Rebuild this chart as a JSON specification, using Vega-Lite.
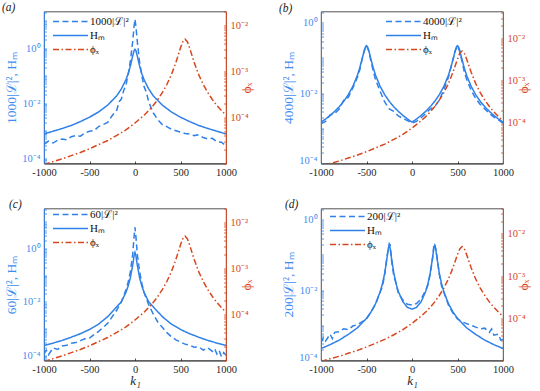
{
"$schema": "https://vega.github.io/schema/vega-lite/v6.json",
"background": "white",
"padding": {"left": 1, "top": 1.5, "right": 0, "bottom": 0},
"datasets": {
"phi": [
{"k":-1000,"v":9.5e-6,"s":"ϕₓ"},{"k":-900,"v":1.1e-5,"s":"ϕₓ"},{"k":-800,"v":1.26e-5,"s":"ϕₓ"},{"k":-700,"v":1.48e-5,"s":"ϕₓ"},{"k":-600,"v":1.74e-5,"s":"ϕₓ"},{"k":-500,"v":2.09e-5,"s":"ϕₓ"},{"k":-400,"v":2.57e-5,"s":"ϕₓ"},{"k":-300,"v":3.16e-5,"s":"ϕₓ"},{"k":-200,"v":4.07e-5,"s":"ϕₓ"},{"k":-100,"v":5.37e-5,"s":"ϕₓ"},{"k":0,"v":7.59e-5,"s":"ϕₓ"},{"k":100,"v":1.12e-4,"s":"ϕₓ"},{"k":150,"v":1.41e-4,"s":"ϕₓ"},{"k":200,"v":1.82e-4,"s":"ϕₓ"},{"k":250,"v":2.45e-4,"s":"ϕₓ"},{"k":300,"v":3.47e-4,"s":"ϕₓ"},{"k":350,"v":5.19e-4,"s":"ϕₓ"},{"k":400,"v":8.51e-4,"s":"ϕₓ"},{"k":425,"v":1.15e-3,"s":"ϕₓ"},{"k":450,"v":1.58e-3,"s":"ϕₓ"},{"k":475,"v":2.26e-3,"s":"ϕₓ"},{"k":500,"v":3.25e-3,"s":"ϕₓ"},{"k":525,"v":4.42e-3,"s":"ϕₓ"},{"k":550,"v":5.01e-3,"s":"ϕₓ"},{"k":575,"v":4.42e-3,"s":"ϕₓ"},{"k":600,"v":3.25e-3,"s":"ϕₓ"},{"k":625,"v":2.26e-3,"s":"ϕₓ"},{"k":650,"v":1.58e-3,"s":"ϕₓ"},{"k":675,"v":1.15e-3,"s":"ϕₓ"},{"k":700,"v":8.51e-4,"s":"ϕₓ"},{"k":750,"v":5.19e-4,"s":"ϕₓ"},{"k":800,"v":3.47e-4,"s":"ϕₓ"},{"k":850,"v":2.45e-4,"s":"ϕₓ"},{"k":900,"v":1.82e-4,"s":"ϕₓ"},{"k":950,"v":1.41e-4,"s":"ϕₓ"},{"k":1000,"v":1.12e-4,"s":"ϕₓ"}
],
"a": [
{"k":-1000,"v":7.59e-4,"s":"Hₘ"},{"k":-900,"v":9.55e-4,"s":"Hₘ"},{"k":-800,"v":1.2e-3,"s":"Hₘ"},{"k":-700,"v":1.55e-3,"s":"Hₘ"},{"k":-600,"v":2.14e-3,"s":"Hₘ"},{"k":-500,"v":3.09e-3,"s":"Hₘ"},{"k":-400,"v":4.79e-3,"s":"Hₘ"},{"k":-300,"v":8.51e-3,"s":"Hₘ"},{"k":-200,"v":0.0186,"s":"Hₘ"},{"k":-150,"v":0.0331,"s":"Hₘ"},{"k":-100,"v":0.0708,"s":"Hₘ"},{"k":-75,"v":0.1175,"s":"Hₘ"},{"k":-50,"v":0.229,"s":"Hₘ"},{"k":-25,"v":0.525,"s":"Hₘ"},{"k":-10,"v":0.813,"s":"Hₘ"},{"k":0,"v":0.912,"s":"Hₘ"},{"k":10,"v":0.813,"s":"Hₘ"},{"k":25,"v":0.525,"s":"Hₘ"},{"k":50,"v":0.229,"s":"Hₘ"},{"k":75,"v":0.1175,"s":"Hₘ"},{"k":100,"v":0.0708,"s":"Hₘ"},{"k":150,"v":0.0331,"s":"Hₘ"},{"k":200,"v":0.0186,"s":"Hₘ"},{"k":300,"v":8.51e-3,"s":"Hₘ"},{"k":400,"v":4.79e-3,"s":"Hₘ"},{"k":500,"v":3.09e-3,"s":"Hₘ"},{"k":600,"v":2.14e-3,"s":"Hₘ"},{"k":700,"v":1.55e-3,"s":"Hₘ"},{"k":800,"v":1.2e-3,"s":"Hₘ"},{"k":900,"v":9.55e-4,"s":"Hₘ"},{"k":1000,"v":7.59e-4,"s":"Hₘ"},
{"k":-1000,"v":3.16e-4,"s":"1000|ℒ|²"},{"k":-950,"v":4.17e-4,"s":"1000|ℒ|²"},{"k":-900,"v":3.55e-4,"s":"1000|ℒ|²"},{"k":-850,"v":4.47e-4,"s":"1000|ℒ|²"},{"k":-800,"v":5.01e-4,"s":"1000|ℒ|²"},{"k":-750,"v":4.68e-4,"s":"1000|ℒ|²"},{"k":-700,"v":6.03e-4,"s":"1000|ℒ|²"},{"k":-650,"v":6.61e-4,"s":"1000|ℒ|²"},{"k":-600,"v":6.31e-4,"s":"1000|ℒ|²"},{"k":-550,"v":8.32e-4,"s":"1000|ℒ|²"},{"k":-500,"v":9.55e-4,"s":"1000|ℒ|²"},{"k":-450,"v":1.0e-3,"s":"1000|ℒ|²"},{"k":-400,"v":1.41e-3,"s":"1000|ℒ|²"},{"k":-350,"v":1.66e-3,"s":"1000|ℒ|²"},{"k":-300,"v":2.0e-3,"s":"1000|ℒ|²"},{"k":-250,"v":3.55e-3,"s":"1000|ℒ|²"},{"k":-200,"v":5.62e-3,"s":"1000|ℒ|²"},{"k":-175,"v":0.0112,"s":"1000|ℒ|²"},{"k":-150,"v":0.0141,"s":"1000|ℒ|²"},{"k":-125,"v":0.0282,"s":"1000|ℒ|²"},{"k":-100,"v":0.0447,"s":"1000|ℒ|²"},{"k":-75,"v":0.112,"s":"1000|ℒ|²"},{"k":-50,"v":0.355,"s":"1000|ℒ|²"},{"k":-25,"v":1.778,"s":"1000|ℒ|²"},{"k":-10,"v":6.31,"s":"1000|ℒ|²"},{"k":0,"v":11.2,"s":"1000|ℒ|²"},{"k":10,"v":6.31,"s":"1000|ℒ|²"},{"k":25,"v":1.778,"s":"1000|ℒ|²"},{"k":50,"v":0.316,"s":"1000|ℒ|²"},{"k":75,"v":0.1,"s":"1000|ℒ|²"},{"k":100,"v":0.0398,"s":"1000|ℒ|²"},{"k":125,"v":0.0251,"s":"1000|ℒ|²"},{"k":150,"v":0.0112,"s":"1000|ℒ|²"},{"k":200,"v":4.47e-3,"s":"1000|ℒ|²"},{"k":250,"v":2.51e-3,"s":"1000|ℒ|²"},{"k":300,"v":1.66e-3,"s":"1000|ℒ|²"},{"k":350,"v":1.41e-3,"s":"1000|ℒ|²"},{"k":400,"v":1.12e-3,"s":"1000|ℒ|²"},{"k":450,"v":1.0e-3,"s":"1000|ℒ|²"},{"k":500,"v":8.91e-4,"s":"1000|ℒ|²"},{"k":550,"v":7.94e-4,"s":"1000|ℒ|²"},{"k":600,"v":7.59e-4,"s":"1000|ℒ|²"},{"k":650,"v":6.61e-4,"s":"1000|ℒ|²"},{"k":700,"v":7.08e-4,"s":"1000|ℒ|²"},{"k":750,"v":5.62e-4,"s":"1000|ℒ|²"},{"k":800,"v":5.01e-4,"s":"1000|ℒ|²"},{"k":850,"v":5.25e-4,"s":"1000|ℒ|²"},{"k":900,"v":3.98e-4,"s":"1000|ℒ|²"},{"k":950,"v":3.8e-4,"s":"1000|ℒ|²"},{"k":1000,"v":2.82e-4,"s":"1000|ℒ|²"}
],
"b": [
{"k":-1000,"v":1.5e-3,"s":"Hₘ"},{"k":-950,"v":1.84e-3,"s":"Hₘ"},{"k":-900,"v":2.33e-3,"s":"Hₘ"},{"k":-850,"v":3.03e-3,"s":"Hₘ"},{"k":-800,"v":4.1e-3,"s":"Hₘ"},{"k":-750,"v":5.86e-3,"s":"Hₘ"},{"k":-700,"v":9.04e-3,"s":"Hₘ"},{"k":-650,"v":0.01556,"s":"Hₘ"},{"k":-600,"v":0.0322,"s":"Hₘ"},{"k":-575,"v":0.0515,"s":"Hₘ"},{"k":-550,"v":0.0899,"s":"Hₘ"},{"k":-525,"v":0.163,"s":"Hₘ"},{"k":-510,"v":0.211,"s":"Hₘ"},{"k":-500,"v":0.224,"s":"Hₘ"},{"k":-490,"v":0.211,"s":"Hₘ"},{"k":-475,"v":0.163,"s":"Hₘ"},{"k":-450,"v":0.0899,"s":"Hₘ"},{"k":-425,"v":0.0515,"s":"Hₘ"},{"k":-400,"v":0.0322,"s":"Hₘ"},{"k":-350,"v":0.01556,"s":"Hₘ"},{"k":-300,"v":9.04e-3,"s":"Hₘ"},{"k":-250,"v":5.86e-3,"s":"Hₘ"},{"k":-200,"v":4.1e-3,"s":"Hₘ"},{"k":-150,"v":3.03e-3,"s":"Hₘ"},{"k":-100,"v":2.33e-3,"s":"Hₘ"},{"k":-50,"v":1.84e-3,"s":"Hₘ"},{"k":0,"v":1.5e-3,"s":"Hₘ"},{"k":50,"v":1.84e-3,"s":"Hₘ"},{"k":100,"v":2.33e-3,"s":"Hₘ"},{"k":150,"v":3.03e-3,"s":"Hₘ"},{"k":200,"v":4.1e-3,"s":"Hₘ"},{"k":250,"v":5.86e-3,"s":"Hₘ"},{"k":300,"v":9.04e-3,"s":"Hₘ"},{"k":350,"v":0.01556,"s":"Hₘ"},{"k":400,"v":0.0322,"s":"Hₘ"},{"k":425,"v":0.0515,"s":"Hₘ"},{"k":450,"v":0.0899,"s":"Hₘ"},{"k":475,"v":0.163,"s":"Hₘ"},{"k":490,"v":0.211,"s":"Hₘ"},{"k":500,"v":0.224,"s":"Hₘ"},{"k":510,"v":0.211,"s":"Hₘ"},{"k":525,"v":0.163,"s":"Hₘ"},{"k":550,"v":0.0899,"s":"Hₘ"},{"k":575,"v":0.0515,"s":"Hₘ"},{"k":600,"v":0.0322,"s":"Hₘ"},{"k":650,"v":0.01556,"s":"Hₘ"},{"k":700,"v":9.04e-3,"s":"Hₘ"},{"k":750,"v":5.86e-3,"s":"Hₘ"},{"k":800,"v":4.1e-3,"s":"Hₘ"},{"k":850,"v":3.03e-3,"s":"Hₘ"},{"k":900,"v":2.33e-3,"s":"Hₘ"},{"k":950,"v":1.84e-3,"s":"Hₘ"},{"k":1000,"v":1.5e-3,"s":"Hₘ"},
{"k":-1000,"v":1.35e-3,"s":"4000|ℒ|²"},{"k":-950,"v":1.58e-3,"s":"4000|ℒ|²"},{"k":-900,"v":2.4e-3,"s":"4000|ℒ|²"},{"k":-850,"v":2.63e-3,"s":"4000|ℒ|²"},{"k":-800,"v":3.55e-3,"s":"4000|ℒ|²"},{"k":-750,"v":6.31e-3,"s":"4000|ℒ|²"},{"k":-700,"v":7.59e-3,"s":"4000|ℒ|²"},{"k":-650,"v":0.0141,"s":"4000|ℒ|²"},{"k":-600,"v":0.0282,"s":"4000|ℒ|²"},{"k":-575,"v":0.0447,"s":"4000|ℒ|²"},{"k":-550,"v":0.0891,"s":"4000|ℒ|²"},{"k":-525,"v":0.158,"s":"4000|ℒ|²"},{"k":-500,"v":0.224,"s":"4000|ℒ|²"},{"k":-475,"v":0.158,"s":"4000|ℒ|²"},{"k":-450,"v":0.0794,"s":"4000|ℒ|²"},{"k":-425,"v":0.0417,"s":"4000|ℒ|²"},{"k":-400,"v":0.024,"s":"4000|ℒ|²"},{"k":-350,"v":0.0112,"s":"4000|ℒ|²"},{"k":-300,"v":5.62e-3,"s":"4000|ℒ|²"},{"k":-250,"v":3.55e-3,"s":"4000|ℒ|²"},{"k":-200,"v":3.02e-3,"s":"4000|ℒ|²"},{"k":-150,"v":2.24e-3,"s":"4000|ℒ|²"},{"k":-100,"v":1.91e-3,"s":"4000|ℒ|²"},{"k":-50,"v":1.66e-3,"s":"4000|ℒ|²"},{"k":0,"v":1.41e-3,"s":"4000|ℒ|²"},{"k":50,"v":1.58e-3,"s":"4000|ℒ|²"},{"k":100,"v":2.0e-3,"s":"4000|ℒ|²"},{"k":150,"v":2.63e-3,"s":"4000|ℒ|²"},{"k":200,"v":3.55e-3,"s":"4000|ℒ|²"},{"k":250,"v":4.17e-3,"s":"4000|ℒ|²"},{"k":300,"v":6.31e-3,"s":"4000|ℒ|²"},{"k":350,"v":0.0126,"s":"4000|ℒ|²"},{"k":400,"v":0.0282,"s":"4000|ℒ|²"},{"k":425,"v":0.0501,"s":"4000|ℒ|²"},{"k":450,"v":0.0891,"s":"4000|ℒ|²"},{"k":475,"v":0.158,"s":"4000|ℒ|²"},{"k":500,"v":0.224,"s":"4000|ℒ|²"},{"k":525,"v":0.151,"s":"4000|ℒ|²"},{"k":550,"v":0.0794,"s":"4000|ℒ|²"},{"k":575,"v":0.0398,"s":"4000|ℒ|²"},{"k":600,"v":0.0251,"s":"4000|ℒ|²"},{"k":650,"v":0.012,"s":"4000|ℒ|²"},{"k":700,"v":7.08e-3,"s":"4000|ℒ|²"},{"k":750,"v":4.79e-3,"s":"4000|ℒ|²"},{"k":800,"v":3.55e-3,"s":"4000|ℒ|²"},{"k":850,"v":2.63e-3,"s":"4000|ℒ|²"},{"k":900,"v":2.09e-3,"s":"4000|ℒ|²"},{"k":950,"v":1.74e-3,"s":"4000|ℒ|²"},{"k":1000,"v":1.41e-3,"s":"4000|ℒ|²"}
],
"c": [
{"k":-1000,"v":2.34e-4,"s":"Hₘ"},{"k":-900,"v":2.88e-4,"s":"Hₘ"},{"k":-800,"v":3.63e-4,"s":"Hₘ"},{"k":-700,"v":4.79e-4,"s":"Hₘ"},{"k":-600,"v":6.46e-4,"s":"Hₘ"},{"k":-500,"v":9.33e-4,"s":"Hₘ"},{"k":-400,"v":1.48e-3,"s":"Hₘ"},{"k":-300,"v":2.82e-3,"s":"Hₘ"},{"k":-200,"v":6.61e-3,"s":"Hₘ"},{"k":-150,"v":0.0102,"s":"Hₘ"},{"k":-100,"v":0.0229,"s":"Hₘ"},{"k":-75,"v":0.0398,"s":"Hₘ"},{"k":-50,"v":0.0832,"s":"Hₘ"},{"k":-25,"v":0.245,"s":"Hₘ"},{"k":-10,"v":0.55,"s":"Hₘ"},{"k":0,"v":0.724,"s":"Hₘ"},{"k":10,"v":0.55,"s":"Hₘ"},{"k":25,"v":0.245,"s":"Hₘ"},{"k":50,"v":0.0832,"s":"Hₘ"},{"k":75,"v":0.0398,"s":"Hₘ"},{"k":100,"v":0.0229,"s":"Hₘ"},{"k":150,"v":0.0102,"s":"Hₘ"},{"k":200,"v":6.61e-3,"s":"Hₘ"},{"k":300,"v":2.82e-3,"s":"Hₘ"},{"k":400,"v":1.48e-3,"s":"Hₘ"},{"k":500,"v":9.33e-4,"s":"Hₘ"},{"k":600,"v":6.46e-4,"s":"Hₘ"},{"k":700,"v":4.79e-4,"s":"Hₘ"},{"k":800,"v":3.63e-4,"s":"Hₘ"},{"k":900,"v":2.88e-4,"s":"Hₘ"},{"k":1000,"v":2.34e-4,"s":"Hₘ"},
{"k":-1000,"v":1.12e-4,"s":"60|ℒ|²"},{"k":-975,"v":1.58e-4,"s":"60|ℒ|²"},{"k":-950,"v":1.05e-4,"s":"60|ℒ|²"},{"k":-900,"v":1.91e-4,"s":"60|ℒ|²"},{"k":-850,"v":1.66e-4,"s":"60|ℒ|²"},{"k":-800,"v":2.24e-4,"s":"60|ℒ|²"},{"k":-750,"v":2.4e-4,"s":"60|ℒ|²"},{"k":-700,"v":2.82e-4,"s":"60|ℒ|²"},{"k":-650,"v":3.02e-4,"s":"60|ℒ|²"},{"k":-600,"v":3.55e-4,"s":"60|ℒ|²"},{"k":-550,"v":4.17e-4,"s":"60|ℒ|²"},{"k":-500,"v":4.47e-4,"s":"60|ℒ|²"},{"k":-450,"v":6.03e-4,"s":"60|ℒ|²"},{"k":-400,"v":7.94e-4,"s":"60|ℒ|²"},{"k":-350,"v":1.12e-3,"s":"60|ℒ|²"},{"k":-300,"v":1.58e-3,"s":"60|ℒ|²"},{"k":-250,"v":2.82e-3,"s":"60|ℒ|²"},{"k":-200,"v":5.01e-3,"s":"60|ℒ|²"},{"k":-150,"v":0.01,"s":"60|ℒ|²"},{"k":-100,"v":0.0282,"s":"60|ℒ|²"},{"k":-75,"v":0.0562,"s":"60|ℒ|²"},{"k":-50,"v":0.141,"s":"60|ℒ|²"},{"k":-25,"v":0.631,"s":"60|ℒ|²"},{"k":-10,"v":2.82,"s":"60|ℒ|²"},{"k":0,"v":6.31,"s":"60|ℒ|²"},{"k":10,"v":2.82,"s":"60|ℒ|²"},{"k":25,"v":0.631,"s":"60|ℒ|²"},{"k":50,"v":0.141,"s":"60|ℒ|²"},{"k":75,"v":0.0501,"s":"60|ℒ|²"},{"k":100,"v":0.0224,"s":"60|ℒ|²"},{"k":150,"v":7.94e-3,"s":"60|ℒ|²"},{"k":200,"v":3.55e-3,"s":"60|ℒ|²"},{"k":250,"v":1.78e-3,"s":"60|ℒ|²"},{"k":300,"v":1.12e-3,"s":"60|ℒ|²"},{"k":350,"v":7.08e-4,"s":"60|ℒ|²"},{"k":400,"v":5.01e-4,"s":"60|ℒ|²"},{"k":450,"v":3.8e-4,"s":"60|ℒ|²"},{"k":500,"v":3.16e-4,"s":"60|ℒ|²"},{"k":550,"v":2.63e-4,"s":"60|ℒ|²"},{"k":600,"v":2.4e-4,"s":"60|ℒ|²"},{"k":650,"v":2.0e-4,"s":"60|ℒ|²"},{"k":700,"v":2.09e-4,"s":"60|ℒ|²"},{"k":750,"v":1.58e-4,"s":"60|ℒ|²"},{"k":800,"v":1.91e-4,"s":"60|ℒ|²"},{"k":850,"v":1.41e-4,"s":"60|ℒ|²"},{"k":875,"v":1.78e-4,"s":"60|ℒ|²"},{"k":900,"v":1.12e-4,"s":"60|ℒ|²"},{"k":925,"v":1.51e-4,"s":"60|ℒ|²"},{"k":950,"v":8.91e-5,"s":"60|ℒ|²"},{"k":975,"v":1.26e-4,"s":"60|ℒ|²"},{"k":1000,"v":1.0e-4,"s":"60|ℒ|²"}
],
"d": [
{"k":-1000,"v":2.19e-4,"s":"Hₘ"},{"k":-900,"v":2.82e-4,"s":"Hₘ"},{"k":-800,"v":3.8e-4,"s":"Hₘ"},{"k":-700,"v":5.5e-4,"s":"Hₘ"},{"k":-600,"v":8.51e-4,"s":"Hₘ"},{"k":-500,"v":1.58e-3,"s":"Hₘ"},{"k":-450,"v":2.4e-3,"s":"Hₘ"},{"k":-400,"v":4.17e-3,"s":"Hₘ"},{"k":-350,"v":8.91e-3,"s":"Hₘ"},{"k":-325,"v":0.0151,"s":"Hₘ"},{"k":-300,"v":0.0302,"s":"Hₘ"},{"k":-275,"v":0.0813,"s":"Hₘ"},{"k":-260,"v":0.155,"s":"Hₘ"},{"k":-250,"v":0.186,"s":"Hₘ"},{"k":-240,"v":0.155,"s":"Hₘ"},{"k":-225,"v":0.0813,"s":"Hₘ"},{"k":-200,"v":0.0309,"s":"Hₘ"},{"k":-175,"v":0.0151,"s":"Hₘ"},{"k":-150,"v":9.12e-3,"s":"Hₘ"},{"k":-100,"v":4.68e-3,"s":"Hₘ"},{"k":-50,"v":3.24e-3,"s":"Hₘ"},{"k":0,"v":2.88e-3,"s":"Hₘ"},{"k":50,"v":3.24e-3,"s":"Hₘ"},{"k":100,"v":4.68e-3,"s":"Hₘ"},{"k":150,"v":9.12e-3,"s":"Hₘ"},{"k":175,"v":0.0151,"s":"Hₘ"},{"k":200,"v":0.0309,"s":"Hₘ"},{"k":225,"v":0.0813,"s":"Hₘ"},{"k":240,"v":0.155,"s":"Hₘ"},{"k":250,"v":0.186,"s":"Hₘ"},{"k":260,"v":0.155,"s":"Hₘ"},{"k":275,"v":0.0813,"s":"Hₘ"},{"k":300,"v":0.0302,"s":"Hₘ"},{"k":325,"v":0.0151,"s":"Hₘ"},{"k":350,"v":8.91e-3,"s":"Hₘ"},{"k":400,"v":4.17e-3,"s":"Hₘ"},{"k":450,"v":2.4e-3,"s":"Hₘ"},{"k":500,"v":1.58e-3,"s":"Hₘ"},{"k":600,"v":8.51e-4,"s":"Hₘ"},{"k":700,"v":5.5e-4,"s":"Hₘ"},{"k":800,"v":3.8e-4,"s":"Hₘ"},{"k":900,"v":2.82e-4,"s":"Hₘ"},{"k":1000,"v":2.19e-4,"s":"Hₘ"},
{"k":-1000,"v":3.16e-4,"s":"200|ℒ|²"},{"k":-975,"v":4.47e-4,"s":"200|ℒ|²"},{"k":-950,"v":3.55e-4,"s":"200|ℒ|²"},{"k":-900,"v":5.62e-4,"s":"200|ℒ|²"},{"k":-875,"v":4.17e-4,"s":"200|ℒ|²"},{"k":-850,"v":6.31e-4,"s":"200|ℒ|²"},{"k":-800,"v":6.61e-4,"s":"200|ℒ|²"},{"k":-750,"v":7.94e-4,"s":"200|ℒ|²"},{"k":-700,"v":7.59e-4,"s":"200|ℒ|²"},{"k":-650,"v":9.55e-4,"s":"200|ℒ|²"},{"k":-600,"v":1.05e-3,"s":"200|ℒ|²"},{"k":-550,"v":1.26e-3,"s":"200|ℒ|²"},{"k":-500,"v":1.51e-3,"s":"200|ℒ|²"},{"k":-450,"v":2.4e-3,"s":"200|ℒ|²"},{"k":-400,"v":3.98e-3,"s":"200|ℒ|²"},{"k":-350,"v":8.91e-3,"s":"200|ℒ|²"},{"k":-325,"v":0.0126,"s":"200|ℒ|²"},{"k":-300,"v":0.0282,"s":"200|ℒ|²"},{"k":-275,"v":0.0891,"s":"200|ℒ|²"},{"k":-250,"v":0.209,"s":"200|ℒ|²"},{"k":-240,"v":0.191,"s":"200|ℒ|²"},{"k":-225,"v":0.0708,"s":"200|ℒ|²"},{"k":-200,"v":0.0251,"s":"200|ℒ|²"},{"k":-175,"v":0.0158,"s":"200|ℒ|²"},{"k":-150,"v":7.94e-3,"s":"200|ℒ|²"},{"k":-100,"v":5.25e-3,"s":"200|ℒ|²"},{"k":-50,"v":3.98e-3,"s":"200|ℒ|²"},{"k":0,"v":3.8e-3,"s":"200|ℒ|²"},{"k":50,"v":4.17e-3,"s":"200|ℒ|²"},{"k":100,"v":5.62e-3,"s":"200|ℒ|²"},{"k":150,"v":0.01,"s":"200|ℒ|²"},{"k":175,"v":0.0141,"s":"200|ℒ|²"},{"k":200,"v":0.0282,"s":"200|ℒ|²"},{"k":225,"v":0.0759,"s":"200|ℒ|²"},{"k":240,"v":0.191,"s":"200|ℒ|²"},{"k":250,"v":0.209,"s":"200|ℒ|²"},{"k":275,"v":0.0891,"s":"200|ℒ|²"},{"k":300,"v":0.0282,"s":"200|ℒ|²"},{"k":325,"v":0.0132,"s":"200|ℒ|²"},{"k":350,"v":8.91e-3,"s":"200|ℒ|²"},{"k":400,"v":3.8e-3,"s":"200|ℒ|²"},{"k":450,"v":2.24e-3,"s":"200|ℒ|²"},{"k":500,"v":1.51e-3,"s":"200|ℒ|²"},{"k":550,"v":1.26e-3,"s":"200|ℒ|²"},{"k":600,"v":1.12e-3,"s":"200|ℒ|²"},{"k":650,"v":1.0e-3,"s":"200|ℒ|²"},{"k":700,"v":8.91e-4,"s":"200|ℒ|²"},{"k":750,"v":7.94e-4,"s":"200|ℒ|²"},{"k":800,"v":8.32e-4,"s":"200|ℒ|²"},{"k":850,"v":6.31e-4,"s":"200|ℒ|²"},{"k":875,"v":7.94e-4,"s":"200|ℒ|²"},{"k":900,"v":5.25e-4,"s":"200|ℒ|²"},{"k":950,"v":5.62e-4,"s":"200|ℒ|²"},{"k":975,"v":3.8e-4,"s":"200|ℒ|²"},{"k":1000,"v":3.98e-4,"s":"200|ℒ|²"}
]
},
"columns": 2,
"spacing": {"row": 45, "column": 95},
"bounds": "flush",
"concat": [
{
"width": 182, "height": 152,
"title": {"text": "(a)", "anchor": "start", "frame": "group", "dx": -42, "offset": -7},
"layer": [
{"data": {"name": "a"}, "mark": {"type": "line", "strokeWidth": 1.5, "clip": true},
"encoding": {
"x": {"field": "k", "type": "quantitative", "scale": {"domain": [-1000, 1000], "nice": false}, "axis": {"values": [-1000, -500, 0, 500, 1000], "title": null, "labelExpr": "'' + datum.value"}},
"y": {"field": "v", "type": "quantitative", "scale": {"type": "log", "domain": [6.4e-5, 21.5], "nice": false}, "axis": {"title": "1000|ℒ|², Hₘ", "values": [7e-5,8e-5,9e-5,1e-4,2e-4,3e-4,4e-4,5e-4,6e-4,7e-4,8e-4,9e-4,1e-3,2e-3,3e-3,4e-3,5e-3,6e-3,7e-3,8e-3,9e-3,0.01,0.02,0.03,0.04,0.05,0.06,0.07,0.08,0.09,0.1,0.2,0.3,0.4,0.5,0.6,0.7,0.8,0.9,1,2,3,4,5,6,7,8,9,10,20], "labelExpr": "datum.value == 1 ? '10⁰' : datum.value == 0.01 ? '10⁻²' : datum.value == 0.0001 ? '10⁻⁴' : ''"}},
"color": {"field": "s", "type": "nominal", "scale": {"domain": ["1000|ℒ|²", "Hₘ", "ϕₓ"], "range": ["#2F80E8", "#2F80E8", "#D8461E"]}, "legend": {"legendX": 8, "legendY": 4}},
"strokeDash": {"field": "s", "type": "nominal", "scale": {"domain": ["1000|ℒ|²", "Hₘ", "ϕₓ"], "range": [[6, 3.5], [1, 0], [6, 2.5, 1.5, 2.5]]}, "legend": {"legendX": 8, "legendY": 4}}
}},
{"data": {"name": "phi"}, "mark": {"type": "line", "strokeWidth": 1.5, "clip": true},
"encoding": {
"x": {"field": "k", "type": "quantitative", "axis": {"values": [-1000, -500, 0, 500, 1000], "title": null, "labelExpr": "'' + datum.value"}},
"y": {"field": "v", "type": "quantitative", "scale": {"type": "log", "domain": [1e-5, 0.02], "nice": false}, "axis": {"orient": "right", "title": "ϕₓ", "titleAngle": 270, "titleColor": "#D8461E", "labelColor": "#D8461E", "domainColor": "#D8461E", "tickColor": "#D8461E", "values": [1e-5,2e-5,3e-5,4e-5,5e-5,6e-5,7e-5,8e-5,9e-5,1e-4,2e-4,3e-4,4e-4,5e-4,6e-4,7e-4,8e-4,9e-4,1e-3,2e-3,3e-3,4e-3,5e-3,6e-3,7e-3,8e-3,9e-3,0.01,0.02], "labelExpr": "datum.value == 0.01 ? '10⁻²' : datum.value == 0.001 ? '10⁻³' : datum.value == 0.0001 ? '10⁻⁴' : ''"}},
"color": {"field": "s", "type": "nominal", "scale": {"domain": ["1000|ℒ|²", "Hₘ", "ϕₓ"], "range": ["#2F80E8", "#2F80E8", "#D8461E"]}, "legend": {"legendX": 8, "legendY": 4}},
"strokeDash": {"field": "s", "type": "nominal", "scale": {"domain": ["1000|ℒ|²", "Hₘ", "ϕₓ"], "range": [[6, 3.5], [1, 0], [6, 2.5, 1.5, 2.5]]}, "legend": {"legendX": 8, "legendY": 4}}
}}
],
"resolve": {"scale": {"y": "independent"}}
},
{
"width": 182, "height": 152,
"title": {"text": "(b)", "anchor": "start", "frame": "group", "dx": -42, "offset": -7},
"layer": [
{"data": {"name": "b"}, "mark": {"type": "line", "strokeWidth": 1.5, "clip": true},
"encoding": {
"x": {"field": "k", "type": "quantitative", "scale": {"domain": [-1000, 1000], "nice": false}, "axis": {"values": [-1000, -500, 0, 500, 1000], "title": null, "labelExpr": "'' + datum.value"}},
"y": {"field": "v", "type": "quantitative", "scale": {"type": "log", "domain": [1e-4, 2.1], "nice": false}, "axis": {"title": "4000|ℒ|², Hₘ", "labelOffset": {"condition": {"test": "datum.value == 0.0001", "value": -3}, "value": 0}, "values": [1e-4,2e-4,3e-4,4e-4,5e-4,6e-4,7e-4,8e-4,9e-4,1e-3,2e-3,3e-3,4e-3,5e-3,6e-3,7e-3,8e-3,9e-3,0.01,0.02,0.03,0.04,0.05,0.06,0.07,0.08,0.09,0.1,0.2,0.3,0.4,0.5,0.6,0.7,0.8,0.9,1,2], "labelExpr": "datum.value == 1 ? '10⁰' : datum.value == 0.01 ? '10⁻²' : datum.value == 0.0001 ? '10⁻⁴' : ''"}},
"color": {"field": "s", "type": "nominal", "scale": {"domain": ["4000|ℒ|²", "Hₘ", "ϕₓ"], "range": ["#2F80E8", "#2F80E8", "#D8461E"]}, "legend": {"legendX": 64, "legendY": 4}},
"strokeDash": {"field": "s", "type": "nominal", "scale": {"domain": ["4000|ℒ|²", "Hₘ", "ϕₓ"], "range": [[6, 3.5], [1, 0], [6, 2.5, 1.5, 2.5]]}, "legend": {"legendX": 64, "legendY": 4}}
}},
{"data": {"name": "phi"}, "mark": {"type": "line", "strokeWidth": 1.5, "clip": true},
"encoding": {
"x": {"field": "k", "type": "quantitative", "axis": {"values": [-1000, -500, 0, 500, 1000], "title": null, "labelExpr": "'' + datum.value"}},
"y": {"field": "v", "type": "quantitative", "scale": {"type": "log", "domain": [1.1e-5, 0.043], "nice": false}, "axis": {"orient": "right", "title": "ϕₓ", "titleAngle": 270, "titleColor": "#D8461E", "labelColor": "#D8461E", "domainColor": "#D8461E", "tickColor": "#D8461E", "values": [2e-5,3e-5,4e-5,5e-5,6e-5,7e-5,8e-5,9e-5,1e-4,2e-4,3e-4,4e-4,5e-4,6e-4,7e-4,8e-4,9e-4,1e-3,2e-3,3e-3,4e-3,5e-3,6e-3,7e-3,8e-3,9e-3,0.01,0.02,0.03,0.04], "labelExpr": "datum.value == 0.01 ? '10⁻²' : datum.value == 0.001 ? '10⁻³' : datum.value == 0.0001 ? '10⁻⁴' : ''"}},
"color": {"field": "s", "type": "nominal", "scale": {"domain": ["4000|ℒ|²", "Hₘ", "ϕₓ"], "range": ["#2F80E8", "#2F80E8", "#D8461E"]}, "legend": {"legendX": 64, "legendY": 4}},
"strokeDash": {"field": "s", "type": "nominal", "scale": {"domain": ["4000|ℒ|²", "Hₘ", "ϕₓ"], "range": [[6, 3.5], [1, 0], [6, 2.5, 1.5, 2.5]]}, "legend": {"legendX": 64, "legendY": 4}}
}}
],
"resolve": {"scale": {"y": "independent"}}
},
{
"width": 182, "height": 152,
"title": {"text": "(c)", "anchor": "start", "frame": "group", "dx": -35, "offset": -7},
"layer": [
{"data": {"name": "c"}, "mark": {"type": "line", "strokeWidth": 1.5, "clip": true},
"encoding": {
"x": {"field": "k", "type": "quantitative", "scale": {"domain": [-1000, 1000], "nice": false}, "axis": {"values": [-1000, -500, 0, 500, 1000], "title": "k₁", "labelExpr": "'' + datum.value"}},
"y": {"field": "v", "type": "quantitative", "scale": {"type": "log", "domain": [6.4e-5, 32], "nice": false}, "axis": {"title": "60|ℒ|², Hₘ", "values": [7e-5,8e-5,9e-5,1e-4,2e-4,3e-4,4e-4,5e-4,6e-4,7e-4,8e-4,9e-4,1e-3,2e-3,3e-3,4e-3,5e-3,6e-3,7e-3,8e-3,9e-3,0.01,0.02,0.03,0.04,0.05,0.06,0.07,0.08,0.09,0.1,0.2,0.3,0.4,0.5,0.6,0.7,0.8,0.9,1,2,3,4,5,6,7,8,9,10,20,30], "labelExpr": "datum.value == 1 ? '10⁰' : datum.value == 0.01 ? '10⁻²' : datum.value == 0.0001 ? '10⁻⁴' : ''"}},
"color": {"field": "s", "type": "nominal", "scale": {"domain": ["60|ℒ|²", "Hₘ", "ϕₓ"], "range": ["#2F80E8", "#2F80E8", "#D8461E"]}, "legend": {"legendX": 8, "legendY": 0}},
"strokeDash": {"field": "s", "type": "nominal", "scale": {"domain": ["60|ℒ|²", "Hₘ", "ϕₓ"], "range": [[6, 3.5], [1, 0], [6, 2.5, 1.5, 2.5]]}, "legend": {"legendX": 8, "legendY": 0}}
}},
{"data": {"name": "phi"}, "mark": {"type": "line", "strokeWidth": 1.5, "clip": true},
"encoding": {
"x": {"field": "k", "type": "quantitative", "axis": {"values": [-1000, -500, 0, 500, 1000], "title": "k₁", "labelExpr": "'' + datum.value"}},
"y": {"field": "v", "type": "quantitative", "scale": {"type": "log", "domain": [1e-5, 0.02], "nice": false}, "axis": {"orient": "right", "title": "ϕₓ", "titleAngle": 270, "titleColor": "#D8461E", "labelColor": "#D8461E", "domainColor": "#D8461E", "tickColor": "#D8461E", "values": [1e-5,2e-5,3e-5,4e-5,5e-5,6e-5,7e-5,8e-5,9e-5,1e-4,2e-4,3e-4,4e-4,5e-4,6e-4,7e-4,8e-4,9e-4,1e-3,2e-3,3e-3,4e-3,5e-3,6e-3,7e-3,8e-3,9e-3,0.01,0.02], "labelExpr": "datum.value == 0.01 ? '10⁻²' : datum.value == 0.001 ? '10⁻³' : datum.value == 0.0001 ? '10⁻⁴' : ''"}},
"color": {"field": "s", "type": "nominal", "scale": {"domain": ["60|ℒ|²", "Hₘ", "ϕₓ"], "range": ["#2F80E8", "#2F80E8", "#D8461E"]}, "legend": {"legendX": 8, "legendY": 0}},
"strokeDash": {"field": "s", "type": "nominal", "scale": {"domain": ["60|ℒ|²", "Hₘ", "ϕₓ"], "range": [[6, 3.5], [1, 0], [6, 2.5, 1.5, 2.5]]}, "legend": {"legendX": 8, "legendY": 0}}
}}
],
"resolve": {"scale": {"y": "independent"}}
},
{
"width": 182, "height": 152,
"title": {"text": "(d)", "anchor": "start", "frame": "group", "dx": -36, "offset": -7},
"layer": [
{"data": {"name": "d"}, "mark": {"type": "line", "strokeWidth": 1.5, "clip": true},
"encoding": {
"x": {"field": "k", "type": "quantitative", "scale": {"domain": [-1000, 1000], "nice": false}, "axis": {"values": [-1000, -500, 0, 500, 1000], "title": "k₁", "labelExpr": "'' + datum.value"}},
"y": {"field": "v", "type": "quantitative", "scale": {"type": "log", "domain": [1e-4, 2.1], "nice": false}, "axis": {"title": "200|ℒ|², Hₘ", "labelOffset": {"condition": {"test": "datum.value == 0.0001", "value": -3}, "value": 0}, "values": [1e-4,2e-4,3e-4,4e-4,5e-4,6e-4,7e-4,8e-4,9e-4,1e-3,2e-3,3e-3,4e-3,5e-3,6e-3,7e-3,8e-3,9e-3,0.01,0.02,0.03,0.04,0.05,0.06,0.07,0.08,0.09,0.1,0.2,0.3,0.4,0.5,0.6,0.7,0.8,0.9,1,2], "labelExpr": "datum.value == 1 ? '10⁰' : datum.value == 0.01 ? '10⁻²' : datum.value == 0.0001 ? '10⁻⁴' : ''"}},
"color": {"field": "s", "type": "nominal", "scale": {"domain": ["200|ℒ|²", "Hₘ", "ϕₓ"], "range": ["#2F80E8", "#2F80E8", "#D8461E"]}, "legend": {"legendX": 8, "legendY": 2}},
"strokeDash": {"field": "s", "type": "nominal", "scale": {"domain": ["200|ℒ|²", "Hₘ", "ϕₓ"], "range": [[6, 3.5], [1, 0], [6, 2.5, 1.5, 2.5]]}, "legend": {"legendX": 8, "legendY": 2}}
}},
{"data": {"name": "phi"}, "mark": {"type": "line", "strokeWidth": 1.5, "clip": true},
"encoding": {
"x": {"field": "k", "type": "quantitative", "axis": {"values": [-1000, -500, 0, 500, 1000], "title": "k₁", "labelExpr": "'' + datum.value"}},
"y": {"field": "v", "type": "quantitative", "scale": {"type": "log", "domain": [1e-5, 0.04], "nice": false}, "axis": {"orient": "right", "title": "ϕₓ", "titleAngle": 270, "titleColor": "#D8461E", "labelColor": "#D8461E", "domainColor": "#D8461E", "tickColor": "#D8461E", "values": [1e-5,2e-5,3e-5,4e-5,5e-5,6e-5,7e-5,8e-5,9e-5,1e-4,2e-4,3e-4,4e-4,5e-4,6e-4,7e-4,8e-4,9e-4,1e-3,2e-3,3e-3,4e-3,5e-3,6e-3,7e-3,8e-3,9e-3,0.01,0.02,0.03,0.04], "labelExpr": "datum.value == 0.01 ? '10⁻²' : datum.value == 0.001 ? '10⁻³' : datum.value == 0.0001 ? '10⁻⁴' : ''"}},
"color": {"field": "s", "type": "nominal", "scale": {"domain": ["200|ℒ|²", "Hₘ", "ϕₓ"], "range": ["#2F80E8", "#2F80E8", "#D8461E"]}, "legend": {"legendX": 8, "legendY": 2}},
"strokeDash": {"field": "s", "type": "nominal", "scale": {"domain": ["200|ℒ|²", "Hₘ", "ϕₓ"], "range": [[6, 3.5], [1, 0], [6, 2.5, 1.5, 2.5]]}, "legend": {"legendX": 8, "legendY": 2}}
}}
],
"resolve": {"scale": {"y": "independent"}}
}
],
"resolve": {"scale": {"x": "independent", "y": "independent", "color": "independent", "strokeDash": "independent"}, "legend": {"color": "independent", "strokeDash": "independent"}},
"config": {
"font": "Liberation Serif",
"view": {"stroke": "#262626", "strokeWidth": 0.8},
"title": {"font": "Liberation Serif", "fontSize": 11.5, "fontStyle": "italic", "fontWeight": "normal", "color": "#222222"},
"axis": {"labelFont": "Liberation Serif", "titleFont": "Liberation Serif", "labelFontSize": 10.5, "titleFontSize": 13.5, "titleFontWeight": "normal", "grid": false, "tickSize": -2.5, "tickWidth": 0.8, "domainWidth": 0.8, "labelOverlap": false, "labelFlush": false, "labelBound": false},
"axisX": {"labelPadding": 6, "titlePadding": 0, "titleFontStyle": "italic", "titleFontSize": 13, "labelColor": "#262626", "domainColor": "#262626", "tickColor": "#262626", "titleColor": "#262626"},
"axisLeft": {"labelPadding": 6.5, "titlePadding": 3, "labelColor": "#3F8CF0", "domainColor": "#2F80E8", "tickColor": "#2F80E8", "titleColor": "#3F8CF0"},
"axisRight": {"labelPadding": 6.5, "titlePadding": 5},
"legend": {"orient": "none", "title": null, "symbolType": "M-1,0H6", "symbolSize": 100, "symbolStrokeWidth": 1.5, "labelOffset": 26, "labelFont": "Liberation Serif", "labelFontSize": 11, "labelColor": "#111111", "rowPadding": 3, "padding": 0}
}
}
